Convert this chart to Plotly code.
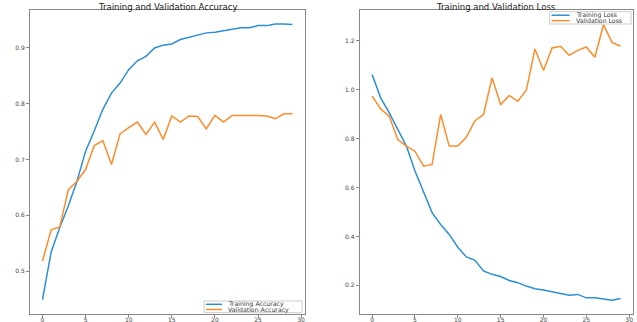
import plotly.graph_objects as go

epochs = list(range(30))
train_acc = [0.449, 0.534, 0.578, 0.617, 0.661, 0.715, 0.751, 0.790, 0.819, 0.837,
             0.861, 0.877, 0.885, 0.900, 0.905, 0.907, 0.915, 0.919, 0.922, 0.927,
             0.928, 0.931, 0.934, 0.936, 0.936, 0.940, 0.940, 0.943, 0.943, 0.942]
val_acc = [0.518, 0.574, 0.579, 0.646, 0.661, 0.682, 0.725, 0.734, 0.691, 0.746,
           0.757, 0.767, 0.745, 0.767, 0.736, 0.778, 0.767, 0.778, 0.777, 0.755,
           0.779, 0.767, 0.779, 0.779, 0.780, 0.779, 0.778, 0.773, 0.782, 0.782]
train_loss = [1.061, 0.966, 0.905, 0.837, 0.769, 0.667, 0.578, 0.497, 0.449, 0.408,
              0.356, 0.316, 0.302, 0.259, 0.245, 0.236, 0.220, 0.211, 0.197, 0.186,
              0.181, 0.173, 0.166, 0.160, 0.163, 0.149, 0.149, 0.143, 0.139, 0.146]
val_loss = [0.973, 0.921, 0.891, 0.796, 0.769, 0.748, 0.687, 0.694, 0.898, 0.769,
            0.769, 0.805, 0.873, 0.898, 1.048, 0.939, 0.976, 0.952, 0.997, 1.166,
            1.078, 1.170, 1.177, 1.140, 1.160, 1.174, 1.132, 1.265, 1.193, 1.177]

x_ticks = [0, 5, 10, 15, 20, 25, 30]
acc_ticks = [0.5, 0.6, 0.7, 0.8, 0.9]
loss_ticks = [0.2, 0.4, 0.6, 0.8, 1.0, 1.2]
loss_tick_labels = ["0.2", "0.4", "0.6", "0.8", "1.0", "1.2"]

BLUE = "#2b8fd6"
ORANGE = "#ff8c2a"
W, H = 637, 322
FONT = "DejaVu Sans"

fig = go.Figure()
fig.add_trace(go.Scatter(x=epochs, y=train_acc, mode="lines", name="Training Accuracy",
                         line=dict(color=BLUE, width=1.5), xaxis="x", yaxis="y"))
fig.add_trace(go.Scatter(x=epochs, y=val_acc, mode="lines", name="Validation Accuracy",
                         line=dict(color=ORANGE, width=1.5), xaxis="x", yaxis="y"))
fig.add_trace(go.Scatter(x=epochs, y=train_loss, mode="lines", name="Training Loss",
                         line=dict(color=BLUE, width=1.5), xaxis="x2", yaxis="y2"))
fig.add_trace(go.Scatter(x=epochs, y=val_loss, mode="lines", name="Validation Loss",
                         line=dict(color=ORANGE, width=1.5), xaxis="x2", yaxis="y2"))

ytop, ybot = 1 - 10 / H, 1 - 313.5 / H

base_axis = dict(showgrid=False, zeroline=False, showline=True, linecolor="#888888",
                 linewidth=1, mirror=True, ticks="outside", tickcolor="#888888",
                 automargin=False,
                 tickfont=dict(size=6, color="#444444", family=FONT))
xaxis_style = dict(base_axis, ticklen=3, ticklabelstandoff=-3)
yaxis_style = dict(base_axis, ticklen=3)


def px(x):
    return x / W


def py(y):
    return 1 - y / H


shapes = []
annotations = []


def add_legend(box, entries, fontsize):
    x0, y0, x1, y1 = box
    shapes.append(dict(type="rect", xref="paper", yref="paper", x0=px(x0), x1=px(x1),
                       y0=py(y1), y1=py(y0), line=dict(color="#cccccc", width=1),
                       fillcolor="rgba(255,255,255,0.85)", layer="above"))
    for (lx0, lx1, tx, ty, color, label) in entries:
        shapes.append(dict(type="line", xref="paper", yref="paper", x0=px(lx0), x1=px(lx1),
                           y0=py(ty), y1=py(ty), line=dict(color=color, width=1.5), layer="above"))
        annotations.append(dict(text=label, x=px(tx), y=py(ty), xref="paper", yref="paper",
                                xanchor="left", yanchor="middle", showarrow=False,
                                font=dict(size=fontsize, color="#333333", family=FONT)))


add_legend((204, 301, 302, 312.7),
           [(206, 222, 226, 304.3, BLUE, "Training Accuracy"),
            (206, 222, 226, 309.5, ORANGE, "Validation Accuracy")], 6.2)
add_legend((549.7, 11.7, 631, 24),
           [(551.5, 569.5, 573.5, 15.2, BLUE, "Training Loss"),
            (551.5, 569.5, 573.5, 20.7, ORANGE, "Validation Loss")], 6.2)

annotations.append(dict(text="Training and Validation Accuracy", x=px((30 + 305) / 2), y=py(6.5),
                        xref="paper", yref="paper", xanchor="center", yanchor="middle",
                        showarrow=False, font=dict(size=8.5, color="#222222", family=FONT)))
annotations.append(dict(text="Training and Validation Loss", x=px((359.7 + 633) / 2), y=py(6.5),
                        xref="paper", yref="paper", xanchor="center", yanchor="middle",
                        showarrow=False, font=dict(size=8.5, color="#222222", family=FONT)))

fig.update_layout(
    width=W, height=H,
    margin=dict(l=0, r=0, t=0, b=0, autoexpand=False),
    paper_bgcolor="white", plot_bgcolor="white",
    showlegend=False,
    xaxis=dict(domain=[px(30), px(305)], range=[-1.45, 30.45], tickvals=x_ticks, anchor="y", **xaxis_style),
    yaxis=dict(domain=[ybot, ytop], range=[0.424, 0.968], tickvals=acc_ticks,
               ticktext=[str(v) for v in acc_ticks], anchor="x", **yaxis_style),
    xaxis2=dict(domain=[px(359.7), px(633)], range=[-1.45, 30.45], tickvals=x_ticks, anchor="y2", **xaxis_style),
    yaxis2=dict(domain=[ybot, ytop], range=[0.085, 1.325], tickvals=loss_ticks,
                ticktext=loss_tick_labels, anchor="x2", **yaxis_style),
    shapes=shapes,
    annotations=annotations,
)

fig.write_html("out.html", config=dict(displayModeBar=False),
               post_script="document.body.style.margin='0';document.body.style.padding='0';")
